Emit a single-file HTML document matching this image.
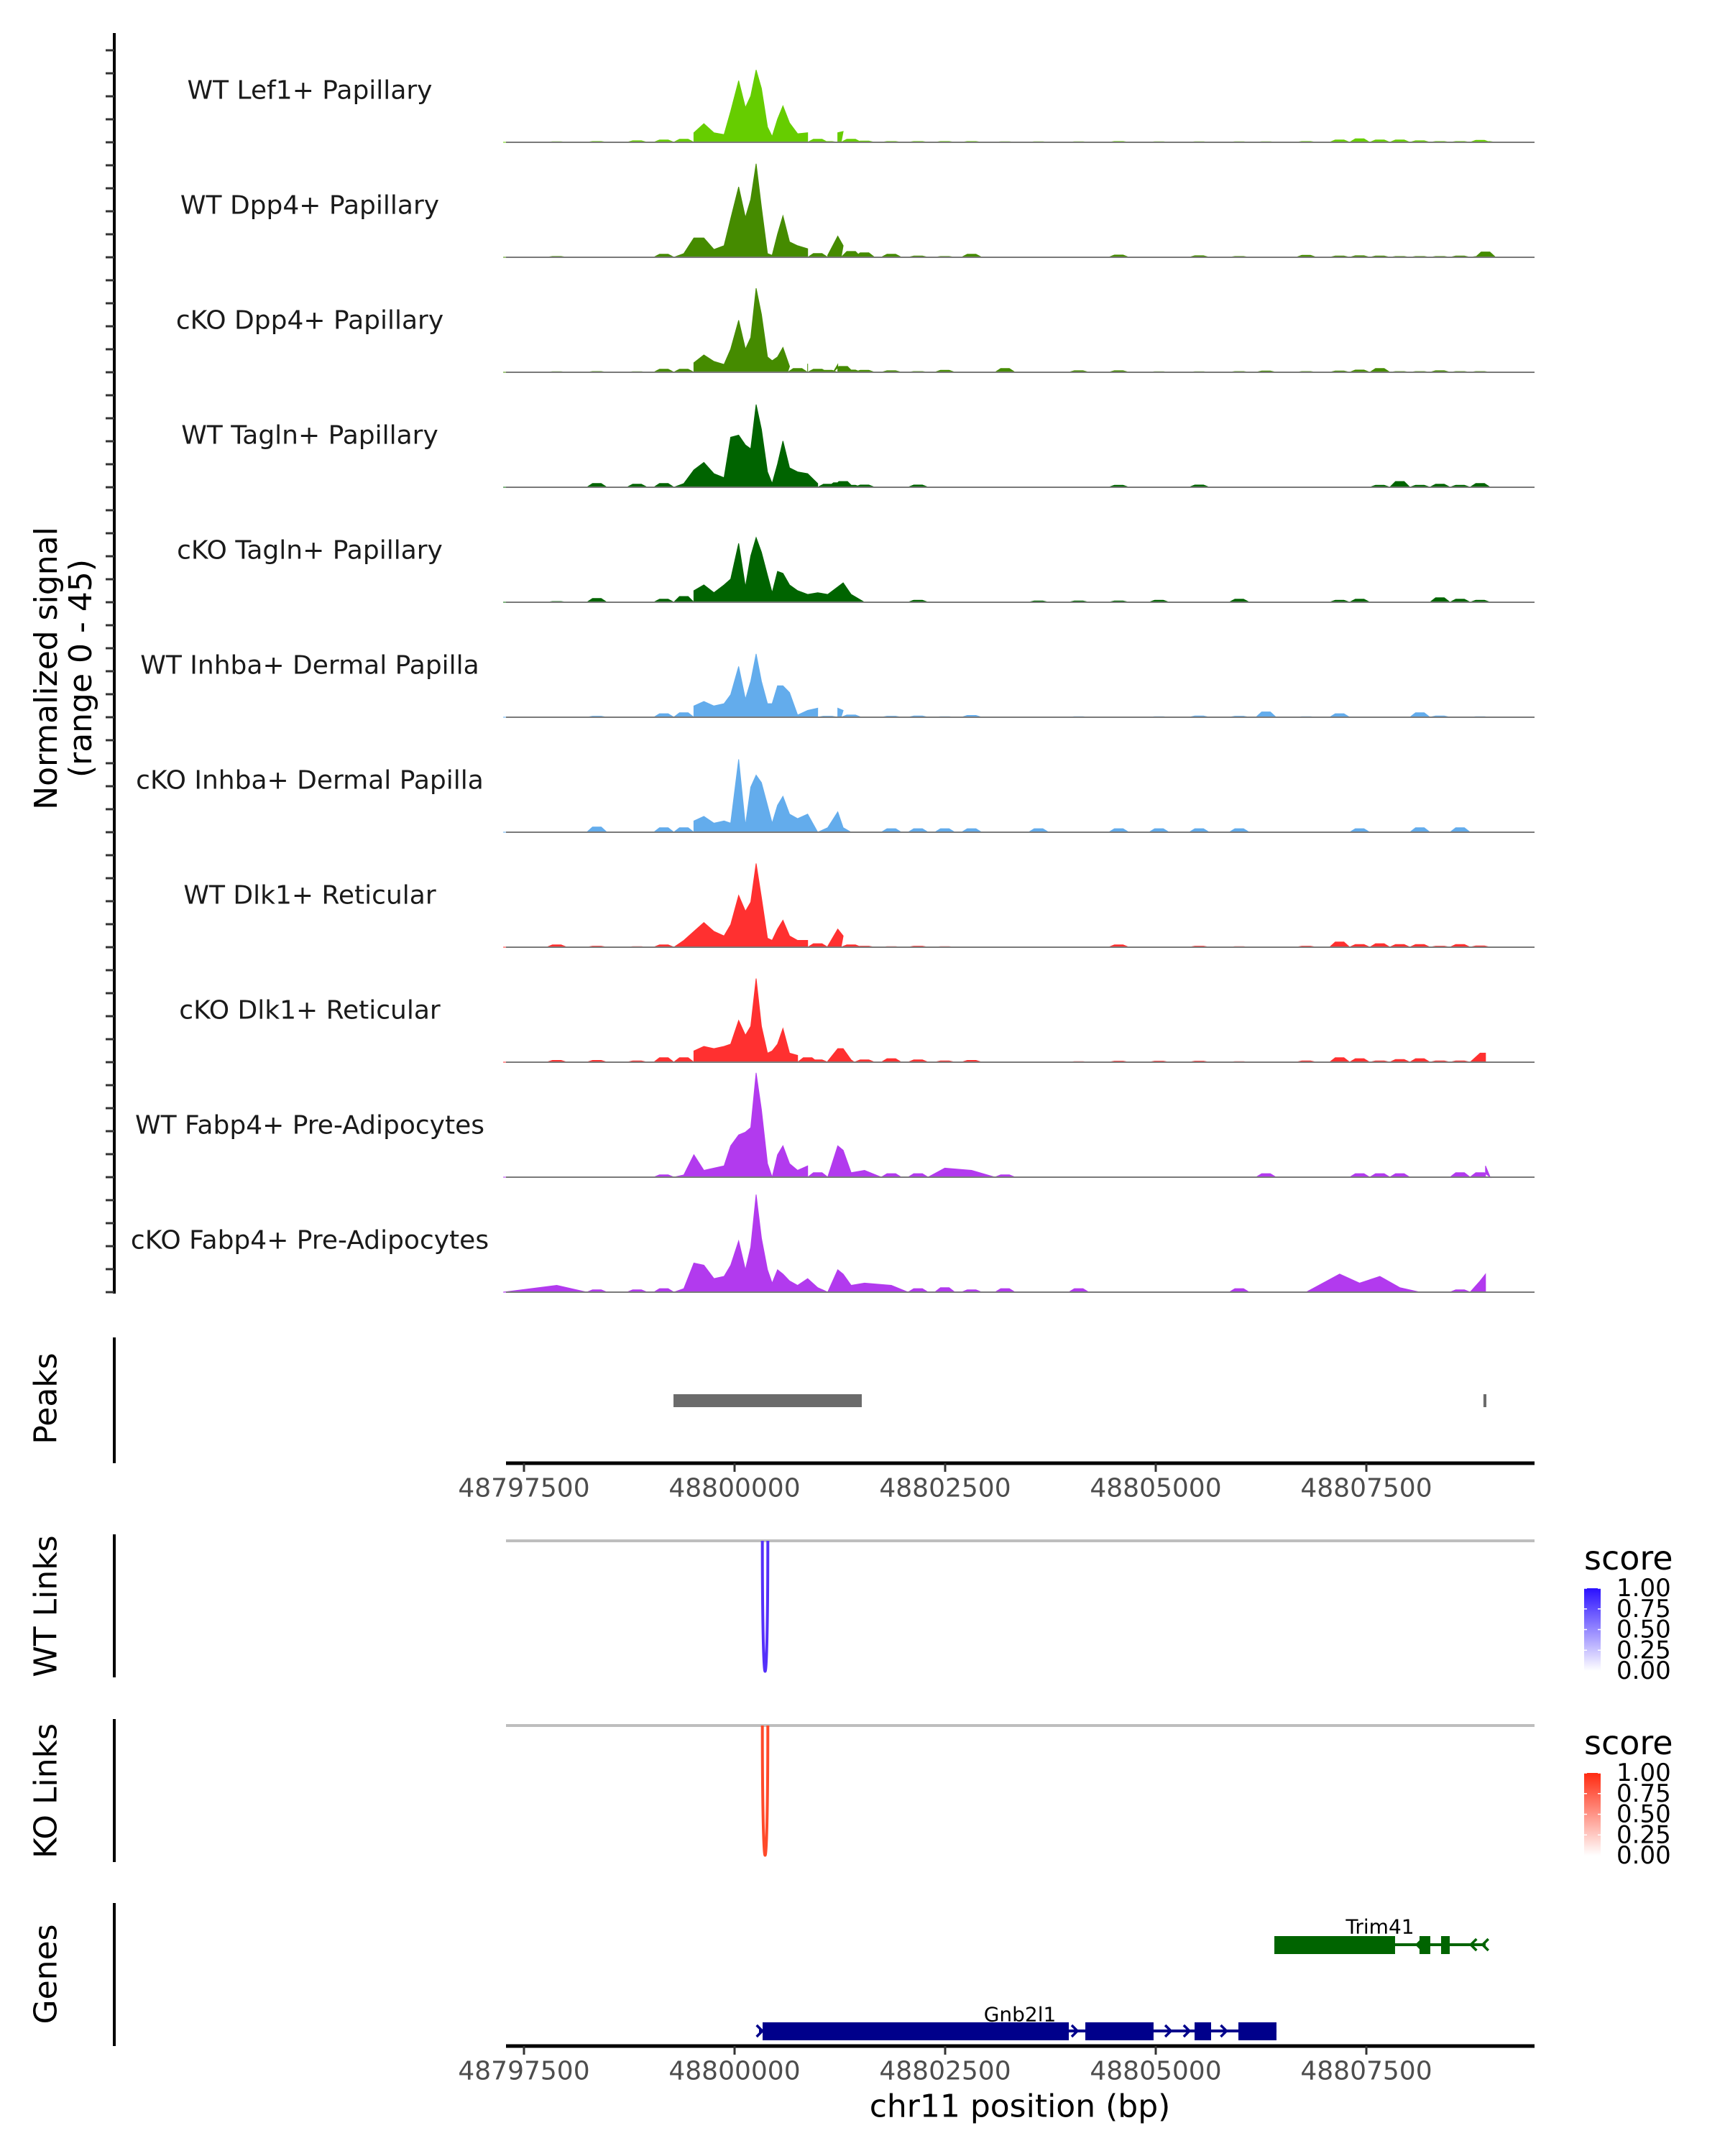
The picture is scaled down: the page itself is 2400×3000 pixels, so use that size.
<!DOCTYPE html>
<html><head><meta charset="utf-8">
<style>
html,body{margin:0;padding:0;background:#fff;}
svg{display:block;font-family:"DejaVu Sans","Liberation Sans",sans-serif;}
</style></head>
<body>
<svg id="chart" width="2400" height="3000" viewBox="0 0 2400 3000" xmlns="http://www.w3.org/2000/svg">
<defs>
<linearGradient id="gWT" x1="0" y1="1" x2="0" y2="0"><stop offset="0" stop-color="#ffffff"/><stop offset="1" stop-color="#2a10ff"/></linearGradient>
<linearGradient id="gKO" x1="0" y1="1" x2="0" y2="0"><stop offset="0" stop-color="#ffffff"/><stop offset="1" stop-color="#ff2a10"/></linearGradient>
</defs>
<g id="root"></g>
</svg>
<script>
// ---- data ----
const binPositions = [48797253,48797889,48798365,48798842,48799160,48799398,48799517,48799636,48799755,48799875,48799954,48800049,48800129,48800192,48800256,48800319,48800391,48800446,48800510,48800574,48800653,48800748,48800868,48800987,48801106,48801225,48801289,48801384,48801543,48801861,48802178,48802496,48802814,48803211,48803608,48804085,48804561,48805038,48805515,48805991,48806309,48806786,48807183,48807421,48807660,48807898,48808136,48808374,48808613,48808851,48808915];
const trackNames = ["WT Lef1+ Papillary","WT Dpp4+ Papillary","cKO Dpp4+ Papillary","WT Tagln+ Papillary","cKO Tagln+ Papillary","WT Inhba+ Dermal Papilla","cKO Inhba+ Dermal Papilla","WT Dlk1+ Reticular","cKO Dlk1+ Reticular","WT Fabp4+ Pre-Adipocytes","cKO Fabp4+ Pre-Adipocytes"];
const trackColors = ["#66CD00","#458B00","#458B00","#006400","#006400","#63ACEC","#63ACEC","#FF3030","#FF3030","#B23AEE","#B23AEE"];
const sigWTLef1 = [0,0.2,0.3,0.6,0.9,1.2,3.8,7.4,3.8,3.1,12.3,24.5,13.8,18.4,28.8,21.4,6.1,2.3,9.2,14.5,7.7,3.4,3.8,1.2,0.3,3.8,4.3,1.2,0.5,0.3,0.3,0.3,0.3,0.2,0.2,0.2,0.3,0.2,0.2,0.2,0.2,0.3,0.9,1.4,0.9,0.9,0.6,0.3,0.3,0.8,0.3];
const sigWTDpp4 = [0,0.3,0,0,1.2,1.5,7.7,7.7,3.1,4.6,15.3,28,15.8,23,37.2,19.9,1.5,0.8,9.2,16.5,6.1,4.6,3.4,1.5,0.8,8.4,4.6,2.3,1.8,1.2,0.5,0.3,1.2,0,0,0,0.9,0,0.6,0.3,0,0.8,0.5,0.6,0.5,0.3,0.3,0.3,0.5,0.3,2.1];
const sigKODpp4 = [0,0.2,0.3,0.2,1.2,1.2,3.8,6.9,4.3,3.1,9.2,20.7,9.2,13.8,33.4,23,6.1,4.6,6.1,9.9,2.3,1.5,3.4,1.2,0.8,3.1,2.3,0.9,0.8,0.6,0.3,0.8,0,1.5,0,0.6,0.6,0.2,0.2,0.3,0.5,0.3,0.5,0.9,1.5,0.3,0.3,0.6,0.3,0.3,0];
const sigWTTagln = [0,0,1.5,1.2,1.5,1.5,6.9,9.9,5.4,3.8,19.9,20.7,16.8,15.3,32.9,23,6.1,1.5,9.2,18.4,7.7,6.1,5.4,1.5,1.2,1.8,2.3,0.8,0.9,0,0.9,0,0,0,0,0,0.8,0,0.9,0,0,0,0,0,0.8,2.3,0.8,1.2,0.8,1.5,0];
const sigKOTagln = [0,0.3,1.5,0,1.2,2.3,4.6,6.9,3.8,6.9,9.2,23.4,6.1,18.4,25.7,19.9,10.7,3.8,12.3,11.5,6.9,4.6,3.1,3.8,3.1,6.1,7.7,3.1,0,0,0.8,0,0,0,0.5,0.5,0.5,0.8,0,1.2,0,0,0.8,1.2,0,0,0,1.8,1.2,0.8,0];
const sigWTInhba = [0,0,0.4,0,1.4,1.8,4.5,6.3,4.5,5.4,9,20.2,7.2,14.3,25.2,14.3,5.4,5.4,12.5,12.5,9.8,0.9,2.7,3.6,0.4,3.6,2.7,0.9,0,0.4,0.5,0.2,0.7,0,0,0.2,0,0.2,0.5,0.4,2.1,0.2,1.4,0,0,0,1.8,0.5,0,0.2,0];
const sigKOInhba = [0,0,2.1,0,1.8,1.8,4.5,6.3,3.6,4.5,3.6,29,2.7,17.9,22.7,19.7,10.7,3.6,10.7,14.3,7.2,5.4,7.2,0,1.8,8.1,1.8,0,0,1.4,1.4,1.4,1.4,0,1.4,0,1.4,1.4,1.4,1.4,0,0,0,1.4,0,0,1.8,0,1.8,0,0];
const sigWTDlk1 = [0,0.9,0.4,0.2,0.9,2.7,6.3,9.8,6.3,4.5,9,20.6,14.3,17.9,33.3,19.7,3.6,2.7,7.2,10.7,4.5,2.7,2.7,1.4,0.4,7.2,4.5,0.9,0.4,0.2,0.4,0.2,0,0,0,0,0.9,0,0.4,0.2,0,0.4,2.1,1.1,1.4,1.1,1.1,0.4,1.1,0.5,0];
const sigKODlk1 = [0,0.7,0.7,0.5,1.8,1.8,4.5,6.3,5.4,6.3,7.2,16.6,10.7,14.3,33.3,14.3,3.6,4.5,7.2,13.4,3.6,2.7,1.8,0.9,0.4,5.4,5.4,0.9,0.9,1.4,0.9,0.5,0.7,0,0,0.2,0.4,0.4,0.4,0.2,0,0.5,1.8,1.4,0.5,1.1,1.4,0.5,0.5,3.6,3.6];
const sigWTFabp4 = [0,0,0,0,0.9,0.9,8.9,2.7,3.6,4.5,12.5,16.8,17.9,19.7,41.5,26.8,5.4,0,8.9,12.5,5.4,2.7,4.5,1.8,0,12.5,10.7,1.8,2.7,1.4,1.4,3.6,2.7,0.9,0,0,0,0,0,0,1.4,0,0,1.4,1.4,1.4,0,0,1.8,1.8,4.5];
const sigKOFabp4 = [0,2.7,0.9,0.9,1.4,1.4,11.6,10.7,5.4,6.3,10.7,20.4,8.9,17.9,38.8,21.5,8.9,3.6,8.9,7.2,4.5,2.7,5.4,1.8,0,8.9,7.2,2.7,3.6,2.7,1.4,1.8,0.9,1.4,0,1.4,0,0,0,1.4,0,0,7.2,3.6,6.3,1.8,0,0,0.9,4.5,7.2];
const xTicks = [48797500,48800000,48802500,48805000,48807500];
const xTickLabels = ["48797500","48800000","48802500","48805000","48807500"];
const peakStarts = [48799275,48808890];
const peakEnds = [48801510,48808925];
const wtLinkStart = [48800330]; const wtLinkEnd = [48800395]; const wtLinkScore = [1];
const koLinkStart = [48800330]; const koLinkEnd = [48800395]; const koLinkScore = [1];
const legendTicks = [0,0.25,0.5,0.75,1];
const legendTickLabels = ["0.00","0.25","0.50","0.75","1.00"];
const trim41Exons = [[48806408,48807841],[48808131,48808259],[48808387,48808490]];
const trim41Span = [48806408,48808916];
const trim41Arrows = [48808100,48808740,48808880];
const gnbExons = [[48800333,48803968],[48804164,48804974],[48805461,48805657],[48805981,48806433]];
const gnbSpan = [48800290,48806433];
const gnbArrows = [48804070,48805180,48805400,48805840];
const allSignals = [sigWTLef1,sigWTDpp4,sigKODpp4,sigWTTagln,sigKOTagln,sigWTInhba,sigKOInhba,sigWTDlk1,sigKODlk1,sigWTFabp4,sigKOFabp4];

// ---- scales ----
const X0 = 704, X1 = 2135;
function xs(bp){ return 729 + (bp - 48797500) * 0.1172; }
const PXU = 3.5;
function base(i){ return 198 + 160 * i; }
function ys(i, v){ return base(i) - v * PXU; }

const NS = "http://www.w3.org/2000/svg";
const root = document.getElementById('root');
function mk(tag, attrs, parent){
  const e = document.createElementNS(NS, tag);
  for (const k in attrs) e.setAttribute(k, attrs[k]);
  (parent || root).appendChild(e);
  return e;
}
function txt(s, attrs, parent){ const t = mk('text', attrs, parent); t.textContent = s; return t; }

// left axes
let a;
a = mk('line',{x1:159,y1:46,x2:159,y2:1800,stroke:'#000','stroke-width':4});
 
for (let j = -4; j <= 50; j++){
  const t = mk('line',{x1:147,y1:198+32*j,x2:159,y2:198+32*j,stroke:'#333','stroke-width':3});
   
}
const panels = [["Peaks",1861,2036,1946],["WT Links",2135,2334,2235],["KO Links",2392,2591,2492],["Genes",2648,2847,2747]];
panels.forEach(p=>{
  const l = mk('line',{x1:159,y1:p[1],x2:159,y2:p[2],stroke:'#000','stroke-width':4});
   
  const t = txt(p[0],{x:0,y:0,'font-size':44,'text-anchor':'middle','dominant-baseline':'central',transform:`translate(64,${p[3]}) rotate(-90)`});
   
});
const yt = mk('text',{x:0,y:0,'font-size':44,'text-anchor':'middle',transform:'translate(89,930) rotate(-90)'});
 
const ts1 = mk('tspan',{x:0,dy:-10},yt); ts1.textContent='Normalized signal';
const ts2 = mk('tspan',{x:0,dy:48},yt); ts2.textContent='(range 0 - 45)';

// tracks
const LOW = 2.5;
allSignals.forEach((sig,i)=>{
  const g = mk('g',{});
   
  const b = base(i);
  let d = `M${xs(binPositions[0])},${b}`;
  sig.forEach((v,k)=>{
    const x = xs(binPositions[k]);
    const prev = k>0 ? sig[k-1] : 0, next = k<sig.length-1 ? sig[k+1] : 0;
    if (v < LOW && prev < LOW*2 && next < LOW*2) {
      if (v > 0) {
        d += ` L${(x-14).toFixed(1)},${b} L${(x-6).toFixed(1)},${ys(i,v).toFixed(1)} L${(x+6).toFixed(1)},${ys(i,v).toFixed(1)} L${(x+14).toFixed(1)},${b}`;
      } else {
        d += ` L${x.toFixed(1)},${b}`;
      }
    } else {
      d += ` L${x.toFixed(1)},${ys(i,v).toFixed(1)}`;
    }
  });
  d += ` L${xs(binPositions[binPositions.length-1])},${b} Z`;
  const p = mk('path',{d:d,fill:trackColors[i],stroke:trackColors[i],'stroke-width':1},g);
   
  const bl = mk('line',{x1:X0,y1:b,x2:X1,y2:b,stroke:'#7a7a7a','stroke-width':2},g);
   
  const lb = txt(trackNames[i],{x:431,y:b-72,'font-size':36,'text-anchor':'middle','dominant-baseline':'central',fill:'#1a1a1a'},g);
   
});

// peaks
peakStarts.forEach((s,k)=>{
  const r = mk('rect',{x:xs(s),y:1940,width:Math.max(4,xs(peakEnds[k])-xs(s)),height:18,fill:'#6b6b6b'});
   
});

// x axes
function xAxis(y, name){
  const g = mk('g',{});
   
  mk('line',{x1:X0,y1:y,x2:X1,y2:y,stroke:'#000','stroke-width':5},g);
  xTicks.forEach((t,k)=>{
    const tk = mk('line',{x1:xs(t),y1:y,x2:xs(t),y2:y+12,stroke:'#333','stroke-width':3},g);
     
    const tl = txt(xTickLabels[k],{x:xs(t),y:y+35,'font-size':36,'text-anchor':'middle','dominant-baseline':'central',fill:'#4d4d4d'},g);
     
  });
}
xAxis(2036,'peaks-x-axis');
xAxis(2847,'genes-x-axis');
const xt = txt('chr11 position (bp)',{x:1419,y:2931,'font-size':44,'text-anchor':'middle','dominant-baseline':'central'});
 

// links
function links(top, bottom, starts, ends, scores, col, name){
  const g = mk('g',{});
   
  const gl = mk('line',{x1:X0,y1:top,x2:X1,y2:top,stroke:'#bebebe','stroke-width':4},g);
   
  starts.forEach((s,k)=>{
    const x1 = xs(s), x2 = xs(ends[k]);
    const depth = (bottom-top) * scores[k];
    const pa = mk('path',{d:`M${x1},${top} C${x1},${top+depth*1.33} ${x2},${top+depth*1.33} ${x2},${top}`,fill:'none',stroke:col,'stroke-width':4},g);
     
  });
}
links(2144,2326,wtLinkStart,wtLinkEnd,wtLinkScore,'#5530FA','wt-links');
links(2401,2582,koLinkStart,koLinkEnd,koLinkScore,'#FF4A2A','ko-links');

// legends
function legend(top, grad, name){
  const g = mk('g',{});
   
  const st = txt('score',{x:2204,y:top,'font-size':46,'dominant-baseline':'central'},g);
   
  const b0 = top+42, bh = 115;
  const cb = mk('rect',{x:2204,y:b0,width:23,height:bh,fill:`url(#${grad})`},g);
   
  legendTicks.forEach((v,k)=>{
    const yy = b0 + bh - v*bh;
    mk('line',{x1:2204,y1:yy,x2:2208,y2:yy,stroke:'#fff','stroke-width':1.5},g);
    mk('line',{x1:2223,y1:yy,x2:2227,y2:yy,stroke:'#fff','stroke-width':1.5},g);
    const tl = txt(legendTickLabels[k],{x:2249,y:yy,'font-size':34,'dominant-baseline':'central'},g);
     
  });
}
legend(2168,'gWT','wt-score-legend');
legend(2425,'gKO','ko-score-legend');

// genes
function gene(name, span, exons, arrows, y, col, dir, lx, ly){
  const g = mk('g',{});
   
  mk('line',{x1:xs(span[0]),y1:y,x2:xs(span[1]),y2:y,stroke:col,'stroke-width':4},g);
  exons.forEach(e=>{
    const r = mk('rect',{x:xs(e[0]),y:y-12,width:xs(e[1])-xs(e[0]),height:25,fill:col},g);
     
  });
  arrows.forEach(a=>{
    const x = xs(a);
    mk('path',{d:`M${x-dir*8},${y-8} L${x},${y} L${x-dir*8},${y+8}`,fill:'none',stroke:col,'stroke-width':3.5},g);
  });
  const t = txt(name,{x:lx,y:ly,'font-size':28,'text-anchor':'middle','dominant-baseline':'central'},g);
   
}
gene('Trim41',trim41Span,trim41Exons,trim41Arrows,2706,'#006400',-1,1920,2681);
gene('Gnb2l1',gnbSpan,gnbExons,gnbArrows.concat([gnbSpan[0]+40]),2826,'#00008B',1,1419,2803);
</script>
</body></html>
